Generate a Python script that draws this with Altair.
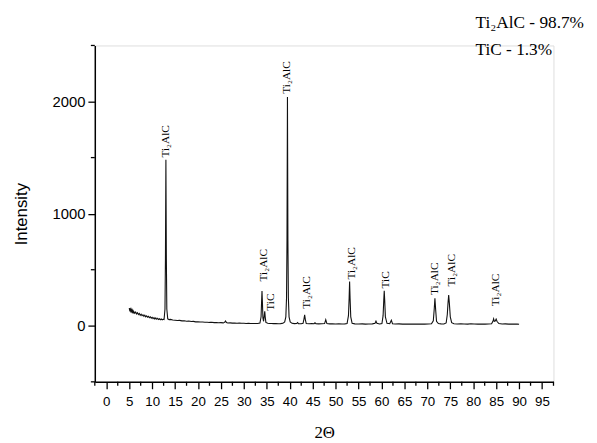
import altair as alt
import pandas as pd

# XRD pattern
two_theta = [
    5.0, 5.1, 5.2, 5.3, 5.4, 5.5, 5.6, 5.7, 5.8, 5.9, 6.0, 6.2, 6.4, 6.6, 6.8, 7.0, 7.2, 7.4,
    7.6, 7.8, 8.0, 8.2, 8.4, 8.6, 8.8, 9.0, 9.2, 9.4, 9.6, 9.8, 10.0, 10.2, 10.4, 10.6, 10.8,
    11.0, 11.2, 11.4, 11.6, 11.8, 12.0, 12.2, 12.4, 12.6, 12.8, 12.9, 13.0, 13.1, 13.2, 13.4, 13.7,
    14.0, 14.5, 15.0, 15.5, 16.0, 16.5, 17.0, 17.5, 18.0, 18.5, 19.0, 19.5, 20.0, 20.5, 21.0, 21.5,
    22.0, 22.5, 23.0, 23.5, 24.0, 24.5, 25.0, 25.5, 25.8, 26.0, 26.2, 26.5, 27.0, 27.5, 28.0, 28.5,
    29.0, 29.5, 30.0, 30.5, 31.0, 31.5, 32.0, 32.5, 33.0, 33.5, 33.75, 33.85, 33.95, 34.05, 34.15,
    34.3, 34.45, 34.55, 34.65, 34.8, 35.2, 35.6, 36.0, 36.5, 37.0, 37.5, 38.0, 38.5, 38.9, 39.15,
    39.3, 39.4, 39.5, 39.6, 39.7, 39.85, 40.1, 40.5, 41.0, 41.5, 41.7, 41.9, 42.5, 42.9, 43.1, 43.25,
    43.4, 43.6, 44.2, 44.8, 45.3, 45.5, 45.7, 46.3, 47.0, 47.6, 47.85, 48.1, 48.7, 49.3, 50.0, 50.7,
    51.4, 52.0, 52.5, 52.8, 52.95, 53.05, 53.15, 53.3, 53.6, 54.2, 55.0, 55.8, 56.5, 57.2, 58.0,
    58.6, 58.8, 59.0, 59.6, 60.1, 60.35, 60.5, 60.6, 60.7, 60.85, 61.2, 61.8, 62.15, 62.4, 63.0,
    63.8, 64.6, 65.4, 66.2, 67.0, 67.8, 68.6, 69.4, 70.2, 70.9, 71.3, 71.5, 71.65, 71.8, 72.0, 72.4,
    73.0, 73.6, 74.1, 74.35, 74.5, 74.65, 74.8, 75.0, 75.3, 75.8, 76.5, 77.3, 78.0, 78.8, 79.5,
    80.2, 81.0, 81.8, 82.6, 83.3, 84.0, 84.3, 84.45, 84.6, 84.8, 85.0, 85.2, 85.6, 86.3, 87.0,
    87.7, 88.4, 89.1, 89.6, 90.0,
]
intensity = [
    158, 140, 150, 132, 146, 128, 140, 122, 134, 118, 128, 112, 122, 106, 116, 100, 110, 94,
    104, 90, 98, 84, 94, 80, 88, 76, 84, 72, 80, 68, 76, 64, 72, 60, 70,
    58, 66, 56, 63, 54, 60, 53, 58, 55, 150, 600, 1480, 600, 150, 62, 55,
    57, 52, 50, 47, 48, 44, 45, 41, 42, 38, 39, 35, 36, 33, 34, 31,
    32, 30, 31, 28, 29, 27, 28, 26, 30, 42, 28, 25, 26, 24, 25, 23,
    24, 22, 23, 21, 22, 20, 21, 20, 21, 24, 80, 200, 310, 200, 70,
    40, 90, 130, 80, 30, 22, 20, 21, 19, 20, 18, 19, 22, 35, 80,
    250, 760, 2040, 760, 250, 80, 35, 22, 19, 20, 28, 19, 18, 22, 60, 98,
    55, 20, 18, 19, 18, 26, 18, 17, 18, 20, 55, 20, 17, 18, 16, 17,
    16, 17, 20, 90, 250, 395, 250, 80, 22, 17, 16, 17, 15, 16, 17,
    22, 42, 22, 16, 20, 90, 230, 313, 230, 80, 22, 18, 50, 18, 16,
    17, 15, 16, 15, 16, 15, 16, 15, 16, 18, 45, 150, 245, 150, 40, 20,
    17, 16, 25, 100, 200, 275, 200, 80, 28, 18, 16, 17, 16, 15, 18,
    16, 15, 16, 15, 16, 18, 40, 62, 40, 42, 60, 38, 20, 16, 17,
    15, 16, 15, 16, 14,
]

# Peak labels
label_x = [13.1, 39.5, 34.3, 36.0, 43.8, 53.5, 60.9, 71.7, 75.4, 85.0]
label_y = [1500, 2070, 395, 134, 152, 412, 333, 275, 350, 175]
label_text = ["Ti₂AlC", "Ti₂AlC", "Ti₂AlC", "TiC", "Ti₂AlC", "Ti₂AlC", "TiC", "Ti₂AlC", "Ti₂AlC", "Ti₂AlC"]

legend_lines = ["Ti₂AlC - 98.7%", "TiC - 1.3%"]

x_major = [0, 5, 10, 15, 20, 25, 30, 35, 40, 45, 50, 55, 60, 65, 70, 75, 80, 85, 90, 95]
x_minor = [-2.5, 2.5, 7.5, 12.5, 17.5, 22.5, 27.5, 32.5, 37.5, 42.5, 47.5, 52.5, 57.5, 62.5,
           67.5, 72.5, 77.5, 82.5, 87.5, 92.5, 97.5]
y_major = [0, 1000, 2000]
y_minor = [-500, 500, 1500, 2500]

W, H = 465, 341

df = pd.DataFrame({"t": two_theta, "i": intensity})
lab = pd.DataFrame({"t": label_x, "i": label_y, "txt": label_text})

x_scale = alt.Scale(domain=[-2.5, 97.5], nice=False, zero=False)
y_scale = alt.Scale(domain=[-500, 2500], nice=False, zero=False)

x_axis = alt.Axis(
    values=x_major, tickSize=7, format="d",
    grid=False, labelOverlap=False, labelFlush=False, labelBound=False,
    labelFont="Liberation Sans", labelFontSize=13.5, labelColor="black", labelPadding=6,
    domainColor="black", domainWidth=1.5, tickColor="black", tickWidth=1.3,
    title="2Θ", titleFont="Liberation Serif", titleFontSize=17, titleFontWeight="normal",
    titleColor="black", titlePadding=17,
)
y_axis = alt.Axis(
    values=y_major, format="d", tickSize=7,
    grid=False, labelOverlap=False, labelFlush=False, labelBound=False,
    labelFont="Liberation Sans", labelFontSize=15, labelColor="black", labelPadding=3,
    domainColor="black", domainWidth=1.5, tickColor="black", tickWidth=1.3,
    title="Intensity", titleFont="Liberation Sans", titleFontSize=17, titleFontWeight="normal",
    titleColor="black", titlePadding=22,
)

line = alt.Chart(df).mark_line(color="#111111", strokeWidth=1.1).encode(
    x=alt.X("t:Q", scale=x_scale, axis=x_axis),
    y=alt.Y("i:Q", scale=y_scale, axis=y_axis),
)

xminor = alt.Chart(pd.DataFrame({"t": x_minor})).mark_rule(color="black", strokeWidth=1.3).encode(
    x=alt.X("t:Q", scale=x_scale, axis=x_axis),
    y=alt.value(H), y2=alt.value(H + 4),
)
yminor = alt.Chart(pd.DataFrame({"i": y_minor})).mark_rule(color="black", strokeWidth=1.3).encode(
    y=alt.Y("i:Q", scale=y_scale, axis=y_axis),
    x=alt.value(0), x2=alt.value(-4),
)

labels = alt.Chart(lab).mark_text(
    angle=270, align="left", baseline="middle", font="Liberation Serif", fontSize=11.5, color="black"
).encode(
    x=alt.X("t:Q", scale=x_scale, axis=x_axis),
    y=alt.Y("i:Q", scale=y_scale, axis=y_axis),
    text="txt:N",
)

leg1 = alt.Chart(pd.DataFrame({"a": [0]})).mark_text(
    align="left", baseline="alphabetic", font="Liberation Serif", fontSize=17.5, color="black"
).encode(x=alt.value(386), y=alt.value(-18), text=alt.value(legend_lines[0]))
leg2 = alt.Chart(pd.DataFrame({"a": [0]})).mark_text(
    align="left", baseline="alphabetic", font="Liberation Serif", fontSize=17.5, color="black"
).encode(x=alt.value(386), y=alt.value(10), text=alt.value(legend_lines[1]))

chart = alt.layer(line, xminor, yminor, labels, leg1, leg2).properties(
    width=W, height=H,
    autosize=alt.AutoSizeParams(type="none"),
    padding={"left": 88, "top": 35, "right": 36, "bottom": 58},
).configure_view(stroke=None).configure_axis(labelOverlap=False).configure(background="white")

chart.save("out.html", embed_options={"renderer": "svg", "actions": False})
